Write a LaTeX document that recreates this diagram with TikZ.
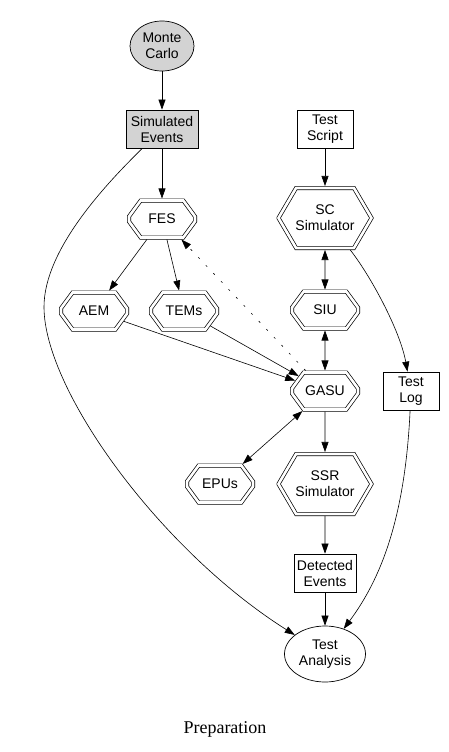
\documentclass[tikz,border=0pt]{standalone}
\usepackage{fontspec}
\setmainfont{Liberation Sans}
\newfontfamily\captionfont{Liberation Serif}
\usetikzlibrary{shapes.geometric,shapes.misc,arrows.meta,positioning}
\definecolor{simgray}{RGB}{211,211,211}

\begin{document}
\begin{tikzpicture}[
    x=1pt, y=-1pt, on grid,
    every node/.style={font=\fontsize{14}{16}\selectfont, align=center, inner sep=0pt},
    oval/.style={ellipse, draw, line width=0.7pt},
    box/.style={rectangle, draw, line width=0.7pt, minimum height=38pt},
    unit/.style={chamfered rectangle, chamfered rectangle angle=36.3, chamfered rectangle xsep=15pt, chamfered rectangle ysep=11pt, draw, double, double distance=2.6pt, line width=0.7pt, outer sep=2pt, minimum width=66pt, minimum height=37pt},
    bigunit/.style={unit, minimum width=93pt, minimum height=60pt, chamfered rectangle angle=30.4, chamfered rectangle xsep=29pt, chamfered rectangle ysep=17pt},
    arr/.style={-{Triangle[length=10pt, width=7pt]}, line width=0.6pt},
    both/.style={{Triangle[length=10pt, width=7pt]}-{Triangle[length=10pt, width=7pt]}, line width=0.6pt},
    feedback/.style={arr, dash pattern=on 2pt off 9pt},
]
\useasboundingbox (0,0) rectangle (448,752);
% Simulation chain
\node[oval, fill=simgray, minimum width=64pt, minimum height=50pt] (mc) at (162,46) {Monte\\Carlo};
\node[box, fill=simgray, minimum width=72pt, below=83pt of mc] (se) {Simulated\\Events};
\node[unit, below=90pt of se] (fes) {FES};
\node[unit, below left=92pt and 68pt of fes] (aem) {AEM};
\node[unit, below right=92pt and 22pt of fes] (tems) {TEMs};
% Test chain
\node[box, minimum width=56pt, right=163pt of se] (ts) {Test\\Script};
\node[bigunit, below=89pt of ts] (scsim) {SC\\Simulator};
\node[unit, below=92pt of scsim] (siu) {SIU};
\node[unit, below=81pt of siu] (gasu) {GASU};
\node[box, minimum width=56pt, right=86pt of gasu] (tlog) {Test\\Log};
\node[bigunit, below=93pt of gasu] (ssr) {SSR\\Simulator};
\node[unit, left=105pt of ssr] (epus) {EPUs};
\node[box, minimum width=62pt, below=89pt of ssr] (det) {Detected\\Events};
\node[oval, minimum width=81pt, minimum height=56pt, below=81pt of det] (ta) {Test\\Analysis};
% Caption
\node[font=\captionfont\fontsize{18}{20}\selectfont] (cap) at (225,729) {Preparation};

% Arrows
\draw[arr] (mc) -- (se);
\draw[arr] (se) -- (fes);
\draw[arr] (fes) -- (aem);
\draw[arr] (fes) -- (tems);
\draw[arr] (aem) -- (gasu);
\draw[arr] (tems) -- (gasu);
\draw[feedback] (gasu) -- (fes);
\draw[arr] (ts) -- (scsim);
\draw[both] (scsim) -- (siu);
\draw[both] (siu) -- (gasu);
\draw[both] (gasu) -- (epus);
\draw[arr] (gasu) -- (ssr);
\draw[arr] (ssr) -- (det);
\draw[arr] (det) -- (ta);
\draw[arr] (scsim) .. controls (370,275) and (400,330) .. (tlog);
\draw[arr] (tlog) .. controls (405,520) and (380,580) .. (ta);
\draw[arr] (se) .. controls (105,185) and (44,250) .. (44,307)
    .. controls (44,390) and (160,550) .. (ta);
\end{tikzpicture}
\end{document}
